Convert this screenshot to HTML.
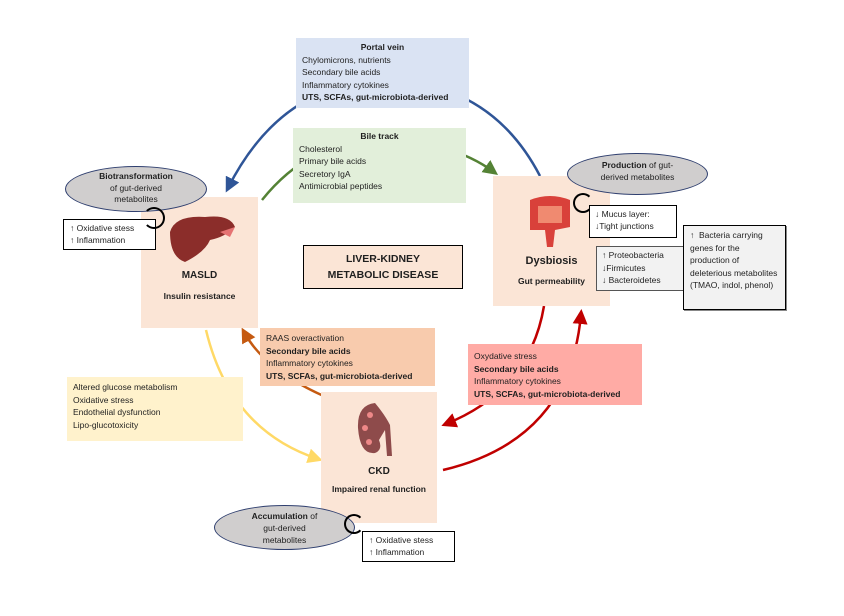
<!DOCTYPE html>
<html><head><meta charset="utf-8"><style>
body{margin:0;width:844px;height:616px;background:#fff;position:relative;overflow:hidden;font-family:"Liberation Sans",sans-serif;color:#1f1f1f}
.a{position:absolute;box-sizing:border-box}
.t{font-size:8.5px;line-height:12.5px}
b{font-weight:bold}
.pk{background:#fbe5d6}
</style></head><body>
<svg class="a" style="left:0;top:0" width="844" height="616">
<defs>
<marker id="mb" markerWidth="6" markerHeight="6" refX="4" refY="3" orient="auto"><path d="M0,0L6,3L0,6z" fill="#2f5597"/></marker>
<marker id="mg" markerWidth="6" markerHeight="6" refX="4" refY="3" orient="auto"><path d="M0,0L6,3L0,6z" fill="#548235"/></marker>
<marker id="mr" markerWidth="6" markerHeight="6" refX="4" refY="3" orient="auto"><path d="M0,0L6,3L0,6z" fill="#c00000"/></marker>
<marker id="mo" markerWidth="6" markerHeight="6" refX="4" refY="3" orient="auto"><path d="M0,0L6,3L0,6z" fill="#c55a11"/></marker>
<marker id="my" markerWidth="6" markerHeight="6" refX="4" refY="3" orient="auto"><path d="M0,0L6,3L0,6z" fill="#ffd966"/></marker>
</defs>
<path d="M540,176 Q490,80 380,80 Q280,85 228,188" fill="none" stroke="#2f5597" stroke-width="2.5" marker-end="url(#mb)"/>
<path d="M262,200 Q310,140 380,140 Q450,140 494,172" fill="none" stroke="#548235" stroke-width="2.5" marker-end="url(#mg)"/>
<path d="M544,306 Q530,390 446,424" fill="none" stroke="#c00000" stroke-width="2.5" marker-end="url(#mr)"/>
<path d="M443,470 Q570,440 581,314" fill="none" stroke="#c00000" stroke-width="2.5" marker-end="url(#mr)"/>
<path d="M360,410 Q270,380 244,332" fill="none" stroke="#c55a11" stroke-width="2.5" marker-end="url(#mo)"/>
<path d="M206,330 Q230,430 318,459" fill="none" stroke="#ffd966" stroke-width="2.5" marker-end="url(#my)"/>
</svg>
<div class="a t" style="left:296px;top:38px;width:173px;height:70px;background:#dae3f3;padding:3px 6px"><div style="text-align:center"><b>Portal vein</b></div>Chylomicrons, nutrients<br>Secondary bile acids<br>Inflammatory cytokines<br><b>UTS, SCFAs, gut-microbiota-derived</b></div>
<div class="a t" style="left:293px;top:128px;width:173px;height:75px;background:#e2efda;padding:2px 6px"><div style="text-align:center"><b>Bile track</b></div>Cholesterol<br>Primary bile acids<br>Secretory IgA<br>Antimicrobial peptides</div>
<div class="a pk" style="left:141px;top:197px;width:117px;height:131px"></div>
<svg class="a" style="left:165px;top:212px" width="75" height="55"><path d="M5,20 Q10,3 40,5 Q65,2 70,15 Q60,25 45,28 Q40,40 20,50 Q5,45 5,20z" fill="#8b2d2a"/><path d="M55,20 L70,15 L65,25z" fill="#e57373"/></svg>
<div class="a" style="left:141px;top:270px;width:117px;text-align:center;font-size:10px;font-weight:bold">MASLD</div>
<div class="a" style="left:141px;top:291px;width:117px;text-align:center;font-size:8.5px;font-weight:bold">Insulin resistance</div>
<div class="a t" style="left:65px;top:166px;width:142px;height:46px;border-radius:50%;background:#d0cece;border:1px solid #2f3f6f;text-align:center;padding-top:4px;line-height:11.5px"><b>Biotransformation</b><br>of gut-derived<br>metabolites</div>
<div class="a t" style="left:63px;top:219px;width:93px;height:31px;border:1px solid #000;background:#fff;padding:2px 6px;line-height:12px">↑ Oxidative stess<br>↑ Inflammation</div>
<div class="a" style="left:143px;top:207px;width:22px;height:22px;border:2px solid #000;border-radius:50%;border-left-color:transparent"></div>
<div class="a" style="left:303px;top:245px;width:160px;height:44px;background:#fbe5d6;border:1px solid #000;text-align:center;font-size:10.5px;font-weight:bold;line-height:16px;padding-top:5px">LIVER-KIDNEY<br>METABOLIC DISEASE</div>
<div class="a pk" style="left:493px;top:176px;width:117px;height:130px"></div>
<svg class="a" style="left:525px;top:192px" width="50" height="60"><path d="M5,8 Q25,0 45,8 L45,35 L30,38 L28,55 L22,55 L20,38 L5,38z" fill="#d9413a"/><rect x="13" y="14" width="24" height="17" fill="#f08a70"/></svg>
<div class="a" style="left:493px;top:255px;width:117px;text-align:center;font-size:11px;font-weight:bold">Dysbiosis</div>
<div class="a" style="left:493px;top:276px;width:117px;text-align:center;font-size:8.5px;font-weight:bold">Gut permeability</div>
<div class="a t" style="left:567px;top:153px;width:141px;height:42px;border-radius:50%;background:#d0cece;border:1px solid #2f3f6f;text-align:center;padding-top:5px;line-height:12px"><b>Production</b> of gut-<br>derived metabolites</div>
<div class="a" style="left:573px;top:193px;width:20px;height:20px;border:2px solid #000;border-radius:50%;border-right-color:transparent"></div>
<div class="a t" style="left:589px;top:205px;width:88px;height:33px;border:1px solid #000;background:#fff;padding:2px 5px;line-height:12px">↓ Mucus layer:<br>↓Tight junctions</div>
<div class="a t" style="left:596px;top:246px;width:88px;height:45px;border:1px solid #555;background:#f2f2f2;padding:2px 5px;line-height:12.5px">↑ Proteobacteria<br>↓Firmicutes<br>↓ Bacteroidetes</div>
<div class="a t" style="left:683px;top:225px;width:103px;height:85px;border:1px solid #000;background:#f2f2f2;padding:3px 6px;line-height:12.5px;box-shadow:1px 1px 0 #888">↑ &nbsp;Bacteria carrying genes for the production of deleterious metabolites (TMAO, indol, phenol)</div>
<div class="a t" style="left:260px;top:328px;width:175px;height:58px;background:#f8cbad;padding:4px 6px;line-height:12.5px">RAAS overactivation<br><b>Secondary bile acids</b><br>Inflammatory cytokines<br><b>UTS, SCFAs, gut-microbiota-derived</b></div>
<div class="a t" style="left:468px;top:344px;width:174px;height:61px;background:#ffaba5;padding:6px 6px;line-height:12.5px">Oxydative stress<br><b>Secondary bile acids</b><br>Inflammatory cytokines<br><b>UTS, SCFAs, gut-microbiota-derived</b></div>
<div class="a t" style="left:67px;top:377px;width:176px;height:64px;background:#fff2cc;padding:4px 6px;line-height:12.5px">Altered glucose metabolism<br>Oxidative stress<br>Endothelial dysfunction<br>Lipo-glucotoxicity</div>
<div class="a pk" style="left:321px;top:392px;width:116px;height:131px"></div>
<svg class="a" style="left:355px;top:400px" width="40" height="58"><path d="M20,3 Q2,5 3,28 Q5,55 20,53 Q28,50 24,40 L30,30 L32,56 L37,56 L35,25 Q30,15 20,3z" fill="#8e4b4b"/><circle cx="15" cy="15" r="3" fill="#e88"/><circle cx="10" cy="28" r="3" fill="#e88"/><circle cx="14" cy="42" r="3" fill="#e88"/></svg>
<div class="a" style="left:321px;top:466px;width:116px;text-align:center;font-size:10px;font-weight:bold">CKD</div>
<div class="a" style="left:321px;top:484px;width:116px;text-align:center;font-size:8.5px;font-weight:bold">Impaired renal function</div>
<div class="a t" style="left:214px;top:505px;width:141px;height:45px;border-radius:50%;background:#d0cece;border:1px solid #2f3f6f;text-align:center;padding-top:4px;line-height:12px"><b>Accumulation</b> of<br>gut-derived<br>metabolites</div>
<div class="a" style="left:344px;top:514px;width:20px;height:20px;border:2px solid #000;border-radius:50%;border-right-color:transparent"></div>
<div class="a t" style="left:362px;top:531px;width:93px;height:31px;border:1px solid #000;background:#fff;padding:2px 6px;line-height:12px">↑ Oxidative stess<br>↑ Inflammation</div>
</body></html>
